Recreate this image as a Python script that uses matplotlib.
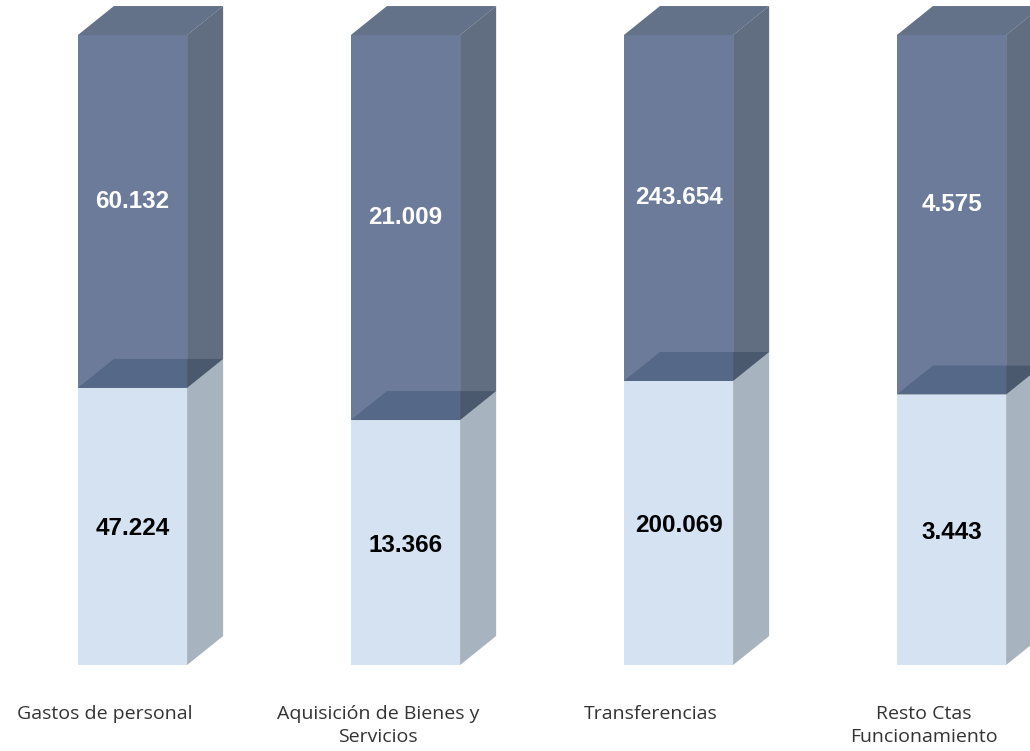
import matplotlib.pyplot as plt
from matplotlib.patches import Polygon

categories = ["Gastos de personal", "Aquisición de Bienes y\nServicios",
              "Transferencias", "Resto Ctas\nFuncionamiento"]
bottom_vals = [47.224, 13.366, 200.069, 3.443]
top_vals = [60.132, 21.009, 243.654, 4.575]
bottom_txt = ["47.224", "13.366", "200.069", "3.443"]
top_txt = ["60.132", "21.009", "243.654", "4.575"]

# colores
light_front = "#d4e2f2"
light_side = "#a7b3be"
light_topface = "#738090"
dark_front = "#516487"
dark_side = "#45536a"
dark_topface = "#485874"
dark_alpha = 0.85

w = 0.4      # ancho de barra
dx = 0.132   # profundidad en x
dy = 4.6     # profundidad en y (en %)

fig = plt.figure(figsize=(10.30, 7.51), dpi=100)
ax = fig.add_axes([0, 0, 1, 1])
ax.set_xlim(-0.4853, 3.2875)
ax.set_ylim(-13.65, 105.56)
ax.axis("off")


def box(ax, x, y0, y1, front, side, topf, alpha=1.0, z=1):
    ax.bar(x, y1 - y0, bottom=y0, width=w, color=front, alpha=alpha,
           linewidth=0, zorder=z)
    xr = x + w / 2
    xl = x - w / 2
    ax.add_patch(Polygon([(xr, y0), (xr + dx, y0 + dy), (xr + dx, y1 + dy), (xr, y1)],
                         closed=True, facecolor=side, alpha=alpha, lw=0, zorder=z))
    ax.add_patch(Polygon([(xl, y1), (xl + dx, y1 + dy), (xr + dx, y1 + dy), (xr, y1)],
                         closed=True, facecolor=topf, alpha=alpha, lw=0, zorder=z))


for i in range(len(categories)):
    tot = bottom_vals[i] + top_vals[i]
    pb = bottom_vals[i] / tot * 100
    box(ax, i, 0, pb, light_front, light_side, light_topface, z=1)
    box(ax, i, pb, 100, dark_front, dark_side, dark_topface, alpha=dark_alpha, z=2)

    ax.text(i, pb / 2, bottom_txt[i], ha="center", va="center_baseline",
            fontsize=17.5, fontweight="bold", color="black",
            family="Liberation Sans", zorder=5)
    ax.text(i, (pb + 100) / 2 + dy / 2 - 0.3, top_txt[i], ha="center",
            va="center_baseline", fontsize=17.5, fontweight="bold",
            color="white", family="Liberation Sans", zorder=5)

    # etiquetas de categoria
    ax.text(i - 0.1, -6.4, categories[i], ha="center", va="top",
            fontsize=14, color="#333333", family="Open Sans",
            linespacing=1.3)

fig.savefig("out.png", dpi=100)
